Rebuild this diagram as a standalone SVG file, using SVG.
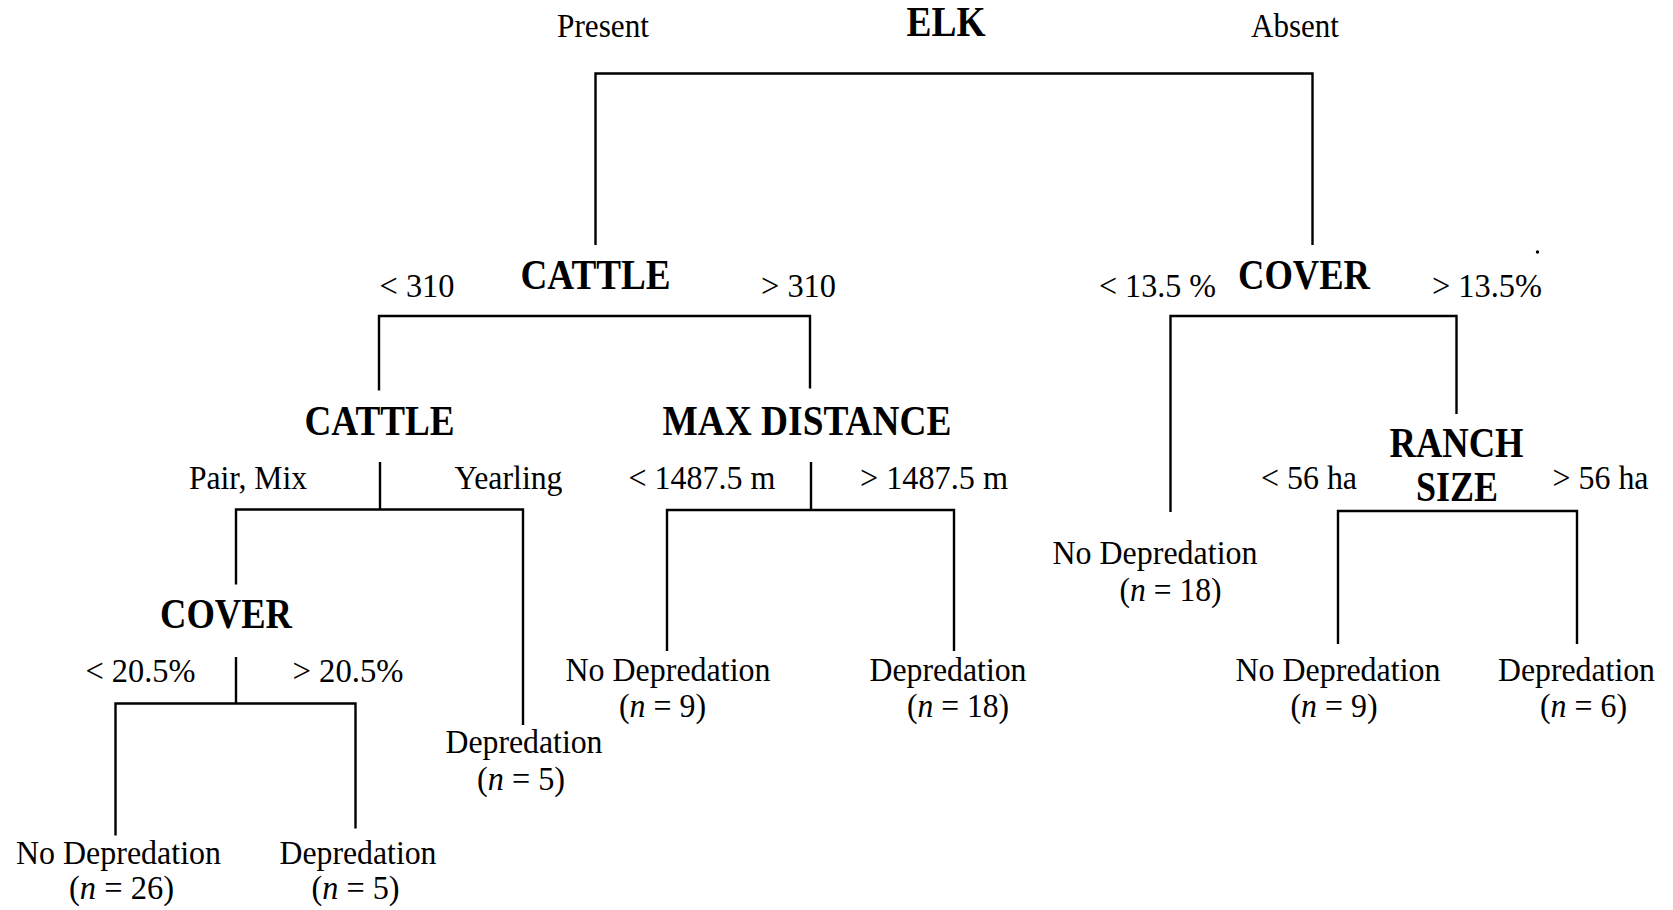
<svg xmlns="http://www.w3.org/2000/svg" width="1673" height="910" viewBox="0 0 1673 910">
<style>
text{font-family:"Liberation Serif","Times New Roman",serif;fill:#000;text-anchor:middle}
.r{font-size:34px}
.b{font-size:42px;font-weight:bold}
.c{stroke:#000;stroke-width:2.4;fill:none}
.i{font-style:italic}
</style>
<rect width="1673" height="910" fill="#fff"/>
<g id="connectors" class="c">
<path d="M595.5 245V73.5H1312.5V245"/>
<path d="M379 390.5V316H810V388.5"/>
<path d="M1170.5 512V316H1456.5V414"/>
<path d="M380 462V509.5M236 584.5V509.5H523V725"/>
<path d="M811 462V510M667 651V510H954V651"/>
<path d="M236 657V703.5M115.5 835.5V703.5H355.5V828.5"/>
<path d="M1338 644V511H1577V644"/>
</g>
<g id="elk"><text class="b" x="946" y="36" textLength="79" lengthAdjust="spacingAndGlyphs">ELK</text>
<text class="r" x="603" y="37" textLength="92" lengthAdjust="spacingAndGlyphs">Present</text>
<text class="r" x="1295" y="37" textLength="88" lengthAdjust="spacingAndGlyphs">Absent</text></g>
<g id="cattle1"><text class="b" x="595.5" y="289" textLength="150" lengthAdjust="spacingAndGlyphs">CATTLE</text>
<text class="r" x="417" y="297" textLength="75" lengthAdjust="spacingAndGlyphs">&lt; 310</text>
<text class="r" x="798.5" y="297" textLength="75" lengthAdjust="spacingAndGlyphs">&gt; 310</text></g>
<g id="cover1"><text class="b" x="1304" y="289" textLength="132" lengthAdjust="spacingAndGlyphs">COVER</text>
<text class="r" x="1157.5" y="297" textLength="117" lengthAdjust="spacingAndGlyphs">&lt; 13.5 %</text>
<text class="r" x="1487" y="297" textLength="110" lengthAdjust="spacingAndGlyphs">&gt; 13.5%</text>
<circle cx="1537.5" cy="252" r="1.7" fill="#000"/></g>
<g id="cattle2"><text class="b" x="379.5" y="435" textLength="150" lengthAdjust="spacingAndGlyphs">CATTLE</text>
<text class="r" x="248" y="489" textLength="118" lengthAdjust="spacingAndGlyphs">Pair, Mix</text>
<text class="r" x="508.5" y="489" textLength="108" lengthAdjust="spacingAndGlyphs">Yearling</text></g>
<g id="maxdistance"><text class="b" x="807" y="435" textLength="289" lengthAdjust="spacingAndGlyphs">MAX DISTANCE</text>
<text class="r" x="702" y="489" textLength="147" lengthAdjust="spacingAndGlyphs">&lt; 1487.5 m</text>
<text class="r" x="934" y="489" textLength="148" lengthAdjust="spacingAndGlyphs">&gt; 1487.5 m</text></g>
<g id="ranchsize"><text class="b" x="1456.5" y="457" textLength="134" lengthAdjust="spacingAndGlyphs">RANCH</text>
<text class="b" x="1457" y="501" textLength="82" lengthAdjust="spacingAndGlyphs">SIZE</text>
<text class="r" x="1309" y="489" textLength="96" lengthAdjust="spacingAndGlyphs">&lt; 56 ha</text>
<text class="r" x="1600.5" y="489" textLength="96" lengthAdjust="spacingAndGlyphs">&gt; 56 ha</text></g>
<g id="cover2"><text class="b" x="226" y="628" textLength="132" lengthAdjust="spacingAndGlyphs">COVER</text>
<text class="r" x="140.5" y="682" textLength="110" lengthAdjust="spacingAndGlyphs">&lt; 20.5%</text>
<text class="r" x="348" y="682" textLength="111" lengthAdjust="spacingAndGlyphs">&gt; 20.5%</text></g>
<g id="leaf-nodep-18"><text class="r" x="1155" y="564" textLength="205" lengthAdjust="spacingAndGlyphs">No Depredation</text>
<text class="r" x="1170.5" y="601" textLength="102" lengthAdjust="spacingAndGlyphs">(<tspan class="i">n</tspan> = 18)</text></g>
<g id="leaf-nodep-9a"><text class="r" x="668" y="681" textLength="205" lengthAdjust="spacingAndGlyphs">No Depredation</text>
<text class="r" x="662.5" y="717" textLength="87" lengthAdjust="spacingAndGlyphs">(<tspan class="i">n</tspan> = 9)</text></g>
<g id="leaf-dep-18"><text class="r" x="948" y="681" textLength="157" lengthAdjust="spacingAndGlyphs">Depredation</text>
<text class="r" x="958" y="717" textLength="102" lengthAdjust="spacingAndGlyphs">(<tspan class="i">n</tspan> = 18)</text></g>
<g id="leaf-nodep-9b"><text class="r" x="1338" y="681" textLength="205" lengthAdjust="spacingAndGlyphs">No Depredation</text>
<text class="r" x="1334" y="717" textLength="87" lengthAdjust="spacingAndGlyphs">(<tspan class="i">n</tspan> = 9)</text></g>
<g id="leaf-dep-6"><text class="r" x="1576.5" y="681" textLength="157" lengthAdjust="spacingAndGlyphs">Depredation</text>
<text class="r" x="1583.5" y="717" textLength="87" lengthAdjust="spacingAndGlyphs">(<tspan class="i">n</tspan> = 6)</text></g>
<g id="leaf-dep-5a"><text class="r" x="524" y="753" textLength="157" lengthAdjust="spacingAndGlyphs">Depredation</text>
<text class="r" x="521" y="790" textLength="88" lengthAdjust="spacingAndGlyphs">(<tspan class="i">n</tspan> = 5)</text></g>
<g id="leaf-nodep-26"><text class="r" x="118.5" y="864" textLength="205" lengthAdjust="spacingAndGlyphs">No Depredation</text>
<text class="r" x="121.5" y="899" textLength="105" lengthAdjust="spacingAndGlyphs">(<tspan class="i">n</tspan> = 26)</text></g>
<g id="leaf-dep-5b"><text class="r" x="358" y="864" textLength="157" lengthAdjust="spacingAndGlyphs">Depredation</text>
<text class="r" x="355.5" y="899" textLength="88" lengthAdjust="spacingAndGlyphs">(<tspan class="i">n</tspan> = 5)</text></g>
</svg>
